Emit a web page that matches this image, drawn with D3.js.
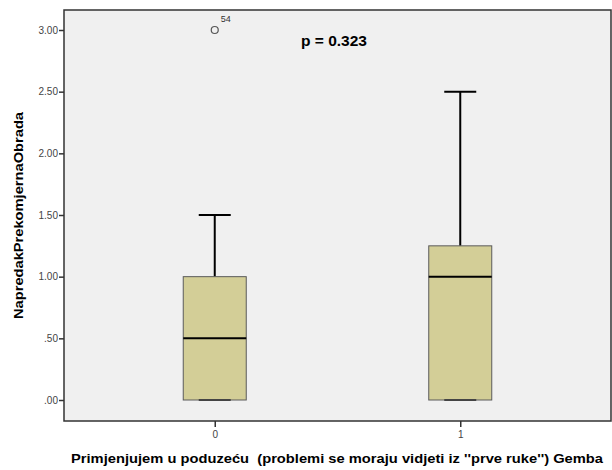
<!DOCTYPE html>
<html>
<head>
<meta charset="utf-8">
<script src="https://cdn.jsdelivr.net/npm/d3@7"></script>
<style>
  body { margin: 0; background: #fff; }
  text { font-family: "Liberation Sans", Arial, sans-serif; }
</style>
</head>
<body>
<div id="chart"></div>
<script>
// data
var groups   = ["0", "1"];
var mins     = [0, 0];
var q1s      = [0, 0];
var medians  = [0.5, 1.0];
var q3s      = [1.0, 1.25];
var maxs     = [1.5, 2.5];
var outliers = [{ group: "0", value: 3.0, label: "54" }];
var yTicks   = [0, 0.5, 1.0, 1.5, 2.0, 2.5, 3.0];
var yTickLabels = [".00", ".50", "1.00", "1.50", "2.00", "2.50", "3.00"];

var width = 612, height = 470;
var frame = { left: 64, top: 10, right: 611, bottom: 421 };

var svg = d3.select("#chart").append("svg")
    .attr("width", width)
    .attr("height", height);

var y = d3.scaleLinear().domain([0, 3]).range([400, 30]);
var x = d3.scalePoint().domain(groups).range([frame.left, frame.right]).padding(0.614);

var boxW = 63, capW = 32;

// plot background
svg.append("rect")
    .attr("x", frame.left).attr("y", frame.top)
    .attr("width", frame.right - frame.left)
    .attr("height", frame.bottom - frame.top)
    .attr("fill", "#f0f0f0");

var data = groups.map(function(g, i) {
    return { group: g, min: mins[i], q1: q1s[i], med: medians[i], q3: q3s[i], max: maxs[i] };
});

var box = svg.selectAll(".box").data(data).enter().append("g").attr("class", "box");

// upper whisker
box.append("line")
    .attr("x1", function(d) { return x(d.group); })
    .attr("x2", function(d) { return x(d.group); })
    .attr("y1", function(d) { return y(d.q3); })
    .attr("y2", function(d) { return y(d.max); })
    .attr("stroke", "#000").attr("stroke-width", 2);
box.append("line")
    .attr("x1", function(d) { return x(d.group) - capW / 2; })
    .attr("x2", function(d) { return x(d.group) + capW / 2; })
    .attr("y1", function(d) { return y(d.max); })
    .attr("y2", function(d) { return y(d.max); })
    .attr("stroke", "#000").attr("stroke-width", 2);

// box
box.append("rect")
    .attr("x", function(d) { return x(d.group) - boxW / 2; })
    .attr("y", function(d) { return y(d.q3); })
    .attr("width", boxW)
    .attr("height", function(d) { return y(d.q1) - y(d.q3); })
    .attr("fill", "#d3ce97")
    .attr("stroke", "#5a5a5a").attr("stroke-width", 1);

// lower whisker cap (sits on the box bottom)
box.append("line")
    .attr("x1", function(d) { return x(d.group) - capW / 2; })
    .attr("x2", function(d) { return x(d.group) + capW / 2; })
    .attr("y1", function(d) { return y(d.min); })
    .attr("y2", function(d) { return y(d.min); })
    .attr("stroke", "#444").attr("stroke-width", 2);

// median
box.append("line")
    .attr("x1", function(d) { return x(d.group) - boxW / 2; })
    .attr("x2", function(d) { return x(d.group) + boxW / 2; })
    .attr("y1", function(d) { return y(d.med); })
    .attr("y2", function(d) { return y(d.med); })
    .attr("stroke", "#000").attr("stroke-width", 2);

// outliers
svg.selectAll(".out").data(outliers).enter().append("circle")
    .attr("cx", function(d) { return x(d.group); })
    .attr("cy", function(d) { return y(d.value); })
    .attr("r", 3.5)
    .attr("fill", "none").attr("stroke", "#555").attr("stroke-width", 1.2);
svg.selectAll(".outlab").data(outliers).enter().append("text")
    .attr("x", function(d) { return x(d.group) + 6; })
    .attr("y", function(d) { return y(d.value) - 8; })
    .attr("font-size", 9).attr("fill", "#333")
    .text(function(d) { return d.label; });

// frame
svg.append("rect")
    .attr("x", frame.left).attr("y", frame.top)
    .attr("width", frame.right - frame.left)
    .attr("height", frame.bottom - frame.top)
    .attr("fill", "none").attr("stroke", "#333").attr("stroke-width", 1.5);

// y axis
var yAxis = svg.append("g")
    .attr("transform", "translate(" + frame.left + ",0)")
    .call(d3.axisLeft(y).tickValues(yTicks).tickSize(5).tickSizeOuter(0)
        .tickFormat(function(d, i) { return yTickLabels[i]; }));
yAxis.select(".domain").remove();
yAxis.selectAll("line").attr("stroke", "#333").attr("stroke-width", 1.5);
yAxis.selectAll("text").attr("font-size", 10).attr("fill", "#444").attr("x", -6)
    .style("font-family", "Liberation Sans, Arial, sans-serif");

// x axis
var xAxis = svg.append("g")
    .attr("transform", "translate(0," + frame.bottom + ")")
    .call(d3.axisBottom(x).tickSize(6).tickSizeOuter(0));
xAxis.select(".domain").remove();
xAxis.selectAll("line").attr("stroke", "#333").attr("stroke-width", 1.5);
xAxis.selectAll("text").attr("font-size", 10).attr("fill", "#444").attr("y", 10)
    .style("font-family", "Liberation Sans, Arial, sans-serif");

// p-value annotation
svg.append("text")
    .attr("x", 301).attr("y", 46)
    .attr("font-size", 14.5).attr("font-weight", "bold")
    .attr("textLength", 66).attr("lengthAdjust", "spacingAndGlyphs")
    .text("p = 0.323");

// axis titles
svg.append("text")
    .attr("transform", "translate(23,215.5) rotate(-90)")
    .attr("text-anchor", "middle")
    .attr("font-size", 13.5).attr("font-weight", "bold")
    .attr("textLength", 207).attr("lengthAdjust", "spacingAndGlyphs")
    .text("NapredakPrekomjernaObrada");

svg.append("text")
    .attr("x", 71).attr("y", 463)
    .attr("font-size", 13.5).attr("font-weight", "bold")
    .attr("textLength", 532).attr("lengthAdjust", "spacingAndGlyphs")
    .style("white-space", "pre")
    .text("Primjenjujem u poduzeću  (problemi se moraju vidjeti iz ''prve ruke'') Gemba");
</script>
</body>
</html>
